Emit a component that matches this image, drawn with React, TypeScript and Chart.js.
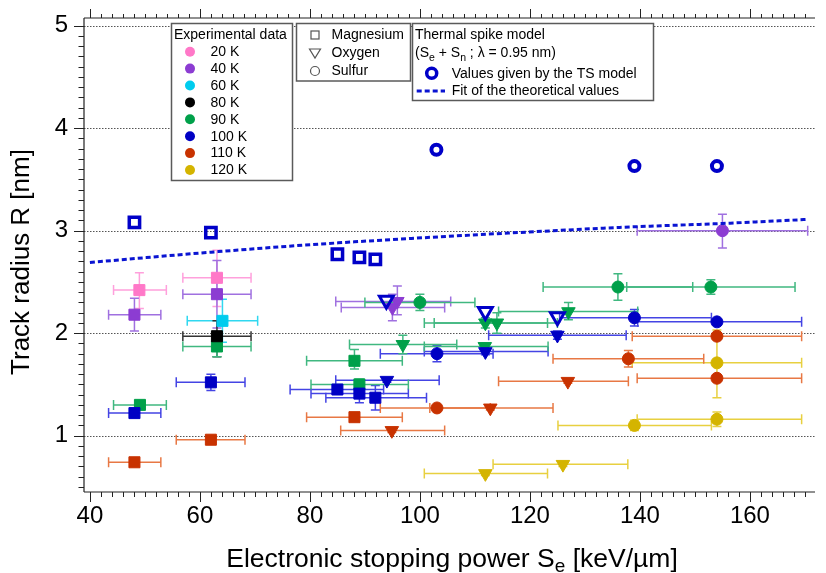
import { useEffect, useRef } from "react";
import { Chart, registerables } from "chart.js";
Chart.register(...registerables);

const FONT = '"Liberation Sans", Arial, Helvetica, sans-serif';

// Each row: [x, y, xLow, xHigh, yLow, yHigh]
// Magnesium (squares)
const mg20 = [[49.0, 2.42, 44.3, 53.9, 2.24, 2.59], [63.1, 2.54, 56.9, 69.3, 2.26, 2.81]];
const mg40 = [[48.1, 2.18, 43.4, 52.9, 2.02, 2.34], [63.1, 2.38, 56.9, 69.3, 2.05, 2.71]];
const mg60 = [[64.1, 2.12, 57.7, 70.5, 1.91, 2.33]];
const mg80 = [[63.1, 1.97, 56.9, 69.3, 1.77, 2.12]];
const mg90 = [[49.1, 1.30, 44.3, 53.9, 1.27, 1.33], [63.1, 1.87, 56.9, 69.3, 1.77, 1.91], [88.1, 1.73, 79.4, 96.8, 1.65, 1.84], [89.0, 1.50, 80.2, 97.9, 1.45, 1.55]];
const mg100 = [[48.1, 1.22, 43.4, 52.9, 1.20, 1.24], [62.0, 1.52, 55.7, 68.2, 1.44, 1.60], [85.0, 1.45, 76.4, 93.4, 1.43, 1.47], [89.0, 1.41, 80.2, 97.9, 1.32, 1.54], [91.9, 1.37, 82.9, 101.2, 1.25, 1.49]];
const mg110 = [[48.1, 0.74, 43.4, 52.9, 0.72, 0.76], [62.0, 0.96, 55.7, 68.2, 0.94, 0.98], [88.1, 1.18, 79.4, 96.8, 1.16, 1.20]];
const mg120: number[][] = [];

// Oxygen (down triangles)
const o20: number[][] = [];
const o40 = [[95.9, 2.31, 84.7, 105.6, 2.18, 2.46], [95.0, 2.25, 85.7, 104.5, 2.12, 2.38]];
const o60: number[][] = [];
const o80: number[][] = [];
const o90 = [[96.9, 1.89, 87.2, 106.7, 1.80, 1.98], [111.8, 1.87, 100.8, 123.3, 1.84, 1.90], [111.9, 2.10, 100.8, 123.2, 2.05, 2.15], [114.0, 2.10, 102.6, 125.0, 2.00, 2.20], [127.0, 2.21, 114.3, 139.6, 2.13, 2.30]];
const o100 = [[94.0, 1.54, 84.7, 103.5, 1.52, 1.56], [111.9, 1.82, 100.8, 123.3, 1.79, 1.85], [125.0, 1.98, 112.5, 137.5, 1.94, 2.02]];
const o110 = [[94.9, 1.05, 85.6, 104.5, 1.03, 1.07], [112.8, 1.27, 101.8, 124.2, 1.25, 1.29], [126.9, 1.53, 114.3, 137.9, 1.51, 1.55]];
const o120 = [[111.9, 0.63, 100.8, 123.2, 0.61, 0.65], [126.0, 0.72, 113.3, 137.8, 0.70, 0.74]];

// Sulfur (circles)
const s20: number[][] = [];
const s40 = [[155.0, 3.00, 139.5, 170.5, 2.83, 3.16]];
const s60: number[][] = [];
const s80: number[][] = [];
const s90 = [[100.0, 2.30, 90.0, 110.0, 2.22, 2.38], [136.0, 2.45, 122.4, 149.6, 2.32, 2.58], [152.9, 2.45, 137.6, 168.2, 2.38, 2.52]];
const s100 = [[103.1, 1.80, 92.8, 113.3, 1.72, 1.88], [139.0, 2.15, 125.4, 153.0, 2.07, 2.23], [154.0, 2.11, 139.6, 169.4, 2.08, 2.14]];
const s110 = [[103.1, 1.27, 92.8, 112.8, 1.25, 1.29], [137.9, 1.75, 124.2, 151.6, 1.67, 1.83], [154.0, 1.97, 138.6, 169.4, 1.95, 1.99], [154.0, 1.56, 139.5, 169.4, 1.54, 1.58]];
const s120 = [[139.0, 1.10, 125.1, 153.0, 1.05, 1.15], [154.0, 1.71, 138.6, 169.4, 1.37, 2.03], [154.0, 1.16, 139.5, 169.4, 1.09, 1.23]];

// Thermal spike model values
const tsMgX = [48.1, 62.0, 85.0, 89.0, 91.9];
const tsMgY = [3.08, 2.98, 2.77, 2.74, 2.72];
const tsOX = [93.9, 111.9, 125.0];
const tsOY = [2.32, 2.21, 2.16];
const tsSX = [103.0, 139.0, 154.0];
const tsSY = [3.79, 3.63, 3.63];

// Fit of theoretical values
const fitX = [40, 62, 82, 128, 140, 155, 170.5];
const fitY = [2.69, 2.79, 2.87, 3.01, 3.04, 3.07, 3.11];

const temps = ["20 K", "40 K", "60 K", "80 K", "90 K", "100 K", "110 K", "120 K"];
const colors = ["#FF78C8", "#8C3CD2", "#00CCEE", "#000000", "#00A04A", "#0000C4", "#C83200", "#D4B400"];
const errColors = ["#FFA0DC", "#A070E0", "#30D8F0", "#333333", "#40B880", "#4444E4", "#E87844", "#E8D040"];

const mgSets = [mg20, mg40, mg60, mg80, mg90, mg100, mg110, mg120];
const oSets = [o20, o40, o60, o80, o90, o100, o110, o120];
const sSets = [s20, s40, s60, s80, s90, s100, s110, s120];

const xTickLabels = [40, 60, 80, 100, 120, 140, 160];
const yTickLabels = [1, 2, 3, 4, 5];

const TS_BLUE = "#0000C8";

const toPts = (rows: number[][]) =>
  rows.map((r) => ({ x: r[0], y: r[1], xl: r[2], xh: r[3], yl: r[4], yh: r[5] }));

function drawDecor(chart: any) {
  const { ctx, chartArea, scales } = chart;
  const x = scales.x, y = scales.y;
  const L = chartArea.left, R = chartArea.right, T = chartArea.top, B = chartArea.bottom;
  ctx.save();
  ctx.strokeStyle = "#555";
  ctx.lineWidth = 1;
  ctx.setLineDash([1.5, 1.5]);
  yTickLabels.forEach((v) => {
    const py = Math.round(y.getPixelForValue(v)) + 0.5;
    ctx.beginPath();
    ctx.moveTo(L, py);
    ctx.lineTo(R, py);
    ctx.stroke();
  });
  ctx.setLineDash([]);
  ctx.strokeStyle = "#222";
  ctx.lineWidth = 1.2;
  ctx.beginPath();
  ctx.moveTo(L, T);
  ctx.lineTo(R, T);
  ctx.moveTo(L, T);
  ctx.lineTo(L, B);
  ctx.moveTo(L, B);
  ctx.lineTo(R, B);
  ctx.stroke();
  ctx.lineWidth = 1;
  ctx.beginPath();
  for (let v = 40; v <= x.max + 1e-6; v += 2) {
    const px = Math.round(x.getPixelForValue(v)) + 0.5;
    const major = Math.abs(v % 20) < 1e-6;
    ctx.moveTo(px, T);
    ctx.lineTo(px, T - (major ? 9 : 4));
    ctx.moveTo(px, B);
    ctx.lineTo(px, B + (major ? 10 : 5));
  }
  for (let k = 5; k <= 50; k++) {
    const v = k / 10;
    const py = Math.round(y.getPixelForValue(v)) + 0.5;
    const major = k % 10 === 0;
    ctx.moveTo(L, py);
    ctx.lineTo(L - (major ? 10 : 5.5), py);
  }
  ctx.stroke();
  ctx.restore();
}

function drawErrorBars(chart: any) {
  const { ctx, scales } = chart;
  const x = scales.x, y = scales.y;
  ctx.save();
  ctx.lineWidth = 1.5;
  chart.data.datasets.forEach((ds: any) => {
    if (!ds.errColor) return;
    ctx.strokeStyle = ds.errColor;
    ds.data.forEach((p: any) => {
      const px = x.getPixelForValue(p.x), py = y.getPixelForValue(p.y);
      const x1 = x.getPixelForValue(p.xl), x2 = x.getPixelForValue(p.xh);
      const y1 = y.getPixelForValue(p.yl), y2 = y.getPixelForValue(p.yh);
      ctx.beginPath();
      ctx.moveTo(x1, py); ctx.lineTo(x2, py);
      ctx.moveTo(x1, py - 5); ctx.lineTo(x1, py + 5);
      ctx.moveTo(x2, py - 5); ctx.lineTo(x2, py + 5);
      ctx.moveTo(px, y1); ctx.lineTo(px, y2);
      ctx.moveTo(px - 4.5, y1); ctx.lineTo(px + 4.5, y1);
      ctx.moveTo(px - 4.5, y2); ctx.lineTo(px + 4.5, y2);
      ctx.stroke();
    });
  });
  ctx.restore();
}

function drawSubText(ctx: any, parts: [string, boolean][], x0: number, yBase: number, size: number, subSize: number, subDrop: number) {
  let xx = x0;
  parts.forEach(([t, sub]) => {
    ctx.font = `${sub ? subSize : size}px ${FONT}`;
    ctx.fillText(t, xx, yBase + (sub ? subDrop : 0));
    xx += ctx.measureText(t).width;
  });
}

function measureParts(ctx: any, parts: [string, boolean][], size: number, subSize: number) {
  let w = 0;
  parts.forEach(([t, sub]) => {
    ctx.font = `${sub ? subSize : size}px ${FONT}`;
    w += ctx.measureText(t).width;
  });
  return w;
}

function box(ctx: any, x1: number, y1: number, x2: number, y2: number) {
  ctx.fillStyle = "#fff";
  ctx.fillRect(x1, y1, x2 - x1, y2 - y1);
  ctx.strokeStyle = "#5a5a5a";
  ctx.lineWidth = 1.5;
  ctx.strokeRect(x1, y1, x2 - x1, y2 - y1);
}

function drawLegendsAndTitles(chart: any) {
  const { ctx } = chart;
  ctx.save();
  ctx.textBaseline = "middle";
  ctx.textAlign = "left";
  // Legend 1
  box(ctx, 171.5, 23.5, 292.5, 180.5);
  ctx.fillStyle = "#000";
  ctx.font = `14px ${FONT}`;
  ctx.fillText("Experimental data", 174, 35.5);
  temps.forEach((t, i) => {
    const yy = 51.7 + i * 16.9;
    ctx.fillStyle = colors[i];
    ctx.beginPath();
    ctx.arc(190, yy, 5, 0, Math.PI * 2);
    ctx.fill();
    ctx.fillStyle = "#000";
    ctx.fillText(t, 210.5, yy + 0.5);
  });
  // Legend 2
  box(ctx, 296.5, 23.5, 410.5, 81);
  ctx.strokeStyle = "#555";
  ctx.lineWidth = 1.2;
  ctx.strokeRect(311, 31, 8, 8);
  ctx.beginPath();
  ctx.moveTo(309.5, 49);
  ctx.lineTo(320.5, 49);
  ctx.lineTo(315, 58);
  ctx.closePath();
  ctx.stroke();
  ctx.beginPath();
  ctx.arc(315, 71, 4.5, 0, Math.PI * 2);
  ctx.stroke();
  ctx.fillStyle = "#000";
  ctx.font = `14px ${FONT}`;
  ctx.fillText("Magnesium", 331.5, 35.5);
  ctx.fillText("Oxygen", 331.5, 53.5);
  ctx.fillText("Sulfur", 331.5, 71);
  // Legend 3
  box(ctx, 412.5, 23.5, 653.5, 100.5);
  ctx.fillStyle = "#000";
  ctx.font = `14px ${FONT}`;
  ctx.fillText("Thermal spike model", 415, 35.5);
  ctx.textBaseline = "alphabetic";
  drawSubText(ctx, [["(S", false], ["e", true], [" + S", false], ["n", true], [" ; \u03bb = 0.95 nm)", false]], 415, 57, 14, 10.5, 3.5);
  ctx.textBaseline = "middle";
  ctx.strokeStyle = TS_BLUE;
  ctx.lineWidth = 3.5;
  ctx.beginPath();
  ctx.arc(431.7, 73.3, 5, 0, Math.PI * 2);
  ctx.stroke();
  ctx.font = `14px ${FONT}`;
  ctx.fillStyle = "#000";
  ctx.fillText("Values given by the TS model", 451.7, 73.8);
  ctx.strokeStyle = "#0A14D2";
  ctx.lineWidth = 3;
  ctx.setLineDash([5, 3]);
  ctx.beginPath();
  ctx.moveTo(416.7, 91);
  ctx.lineTo(445, 91);
  ctx.stroke();
  ctx.setLineDash([]);
  ctx.fillText("Fit of the theoretical values", 451.7, 91.5);

  // X axis title
  ctx.fillStyle = "#000";
  ctx.textBaseline = "alphabetic";
  const xParts: [string, boolean][] = [["Electronic stopping power S", false], ["e", true], [" [keV/\u00b5m]", false]];
  const w = measureParts(ctx, xParts, 26.5, 19);
  drawSubText(ctx, xParts, 452 - w / 2, 567, 26.5, 19, 5);
  // Y axis title
  ctx.save();
  ctx.translate(22, 262);
  ctx.rotate(-Math.PI / 2);
  ctx.textAlign = "center";
  ctx.textBaseline = "middle";
  ctx.font = `26px ${FONT}`;
  ctx.fillText("Track radius R [nm]", 0, 0);
  ctx.restore();
  ctx.restore();
}

const decorPlugin = {
  id: "decor",
  beforeDatasetsDraw(chart: any) {
    drawDecor(chart);
    drawErrorBars(chart);
  },
  afterDraw(chart: any) {
    drawLegendsAndTitles(chart);
  },
};

export default function App() {
  const ref = useRef<HTMLCanvasElement | null>(null);
  useEffect(() => {
    if (!ref.current) return;
    const datasets: any[] = [];
    datasets.push({
      label: "fit",
      data: fitX.map((v, i) => ({ x: v, y: fitY[i] })),
      showLine: true,
      borderColor: "#0A14D2",
      borderWidth: 3,
      borderDash: [5, 3],
      pointRadius: 0,
      cubicInterpolationMode: "monotone",
    });
    datasets.push({
      label: "tsMg",
      data: tsMgX.map((v, i) => ({ x: v, y: tsMgY[i] })),
      pointStyle: "rect",
      pointRadius: 7.3,
      borderWidth: 3.5,
      borderColor: TS_BLUE,
      backgroundColor: "rgba(255,255,255,0)",
    });
    datasets.push({
      label: "tsO",
      data: tsOX.map((v, i) => ({ x: v, y: tsOY[i] })),
      pointStyle: "triangle",
      pointRotation: 180,
      pointRadius: 8,
      borderWidth: 3,
      borderColor: TS_BLUE,
      backgroundColor: "rgba(255,255,255,0)",
    });
    datasets.push({
      label: "tsS",
      data: tsSX.map((v, i) => ({ x: v, y: tsSY[i] })),
      pointStyle: "circle",
      pointRadius: 5,
      borderWidth: 4,
      borderColor: TS_BLUE,
      backgroundColor: "rgba(255,255,255,0)",
    });
    const order = [0, 1, 2, 3, 7, 6, 5, 4];
    order.forEach((ti) => {
      const common = {
        backgroundColor: colors[ti],
        borderColor: colors[ti],
        borderWidth: 1,
        errColor: errColors[ti],
      };
      datasets.push({ label: temps[ti] + " Mg", data: toPts(mgSets[ti]), pointStyle: "rect", pointRadius: 7.8, ...common });
      datasets.push({ label: temps[ti] + " O", data: toPts(oSets[ti]), pointStyle: "triangle", pointRotation: 180, pointRadius: 7.8, ...common });
      datasets.push({ label: temps[ti] + " S", data: toPts(sSets[ti]), pointStyle: "circle", pointRadius: 6, ...common });
    });

    const tickFont = { family: FONT, size: 24 };
    const chart = new Chart(ref.current, {
      type: "scatter",
      data: { datasets },
      options: {
        animation: false,
        responsive: true,
        maintainAspectRatio: false,
        events: [],
        layout: { padding: { top: 18, left: 0, right: 0, bottom: 0 } },
        plugins: { legend: { display: false }, tooltip: { enabled: false } },
        scales: {
          x: {
            type: "linear",
            min: 38.93,
            max: 171.83,
            afterBuildTicks: (s: any) => {
              s.ticks = xTickLabels.map((v) => ({ value: v }));
            },
            afterFit: (s: any) => {
              s.height = 81;
              s.paddingLeft = 0;
              s.paddingRight = 0;
            },
            grid: { display: false, drawTicks: false },
            border: { display: false },
            ticks: {
              font: tickFont,
              color: "#000",
              padding: 10,
              maxRotation: 0,
              autoSkip: false,
              callback: (v: any) => String(v),
            },
          },
          y: {
            type: "linear",
            min: 0.45,
            max: 5.075,
            afterBuildTicks: (s: any) => {
              s.ticks = yTickLabels.map((v) => ({ value: v }));
            },
            afterFit: (s: any) => {
              s.width = 84;
              s.paddingTop = 0;
              s.paddingBottom = 0;
            },
            grid: { display: false, drawTicks: false },
            border: { display: false },
            ticks: {
              font: tickFont,
              color: "#000",
              padding: 16,
              autoSkip: false,
              callback: (v: any) => String(v),
            },
          },
        },
      } as any,
      plugins: [decorPlugin],
    });
    return () => chart.destroy();
  }, []);
  return (
    <div style={{ position: "absolute", left: 0, top: 0, width: 826, height: 573, background: "#fff" }}>
      <canvas ref={ref} />
    </div>
  );
}
